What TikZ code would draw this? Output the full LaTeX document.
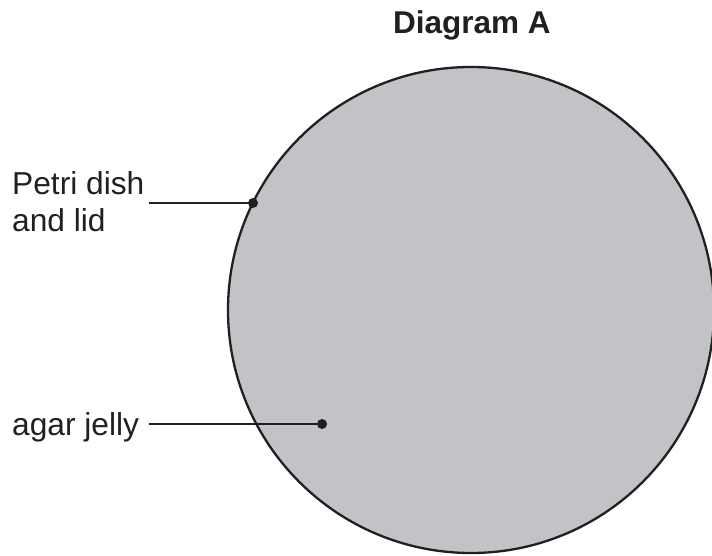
\documentclass[tikz,border=0pt]{standalone}
\usepackage{fontspec}
\setmainfont{Liberation Sans}
\definecolor{ink}{HTML}{231F20}
\definecolor{agar}{HTML}{C2C3C7}
\begin{document}
\begin{tikzpicture}[x=1pt,y=-1pt,
  lbl/.style={font=\fontsize{31.7}{37}\selectfont, text=ink, inner sep=0pt},
  leader/.style={draw=ink, line width=2.3pt},
  dotmark/.style={circle, fill=ink, inner sep=0pt, minimum size=10pt}]
\useasboundingbox (0,0) rectangle (712,556);
\fill[agar] (471,310) circle[radius=243];
\draw[ink, line width=2.3pt] (471,310) circle[radius=243];
\node[lbl, font=\fontsize{31.5}{37}\selectfont\bfseries, anchor=base west] (title) at (393,34) {Diagram A};
\node[lbl, anchor=base west] (petri1) at (12,195) {Petri dish};
\node[lbl, anchor=base west] (petri2) at (12,232) {and lid};
\node[lbl, anchor=base west] (agarlbl) at (12,435) {agar jelly};
\coordinate (pstart) at (149,203);
\coordinate (astart) at (149,424);
\node[dotmark] (pdot) at (253,203) {};
\node[dotmark] (adot) at (322,424) {};
\draw[leader] (pstart) -- (pdot.center);
\draw[leader] (astart) -- (adot.center);
\end{tikzpicture}
\end{document}
